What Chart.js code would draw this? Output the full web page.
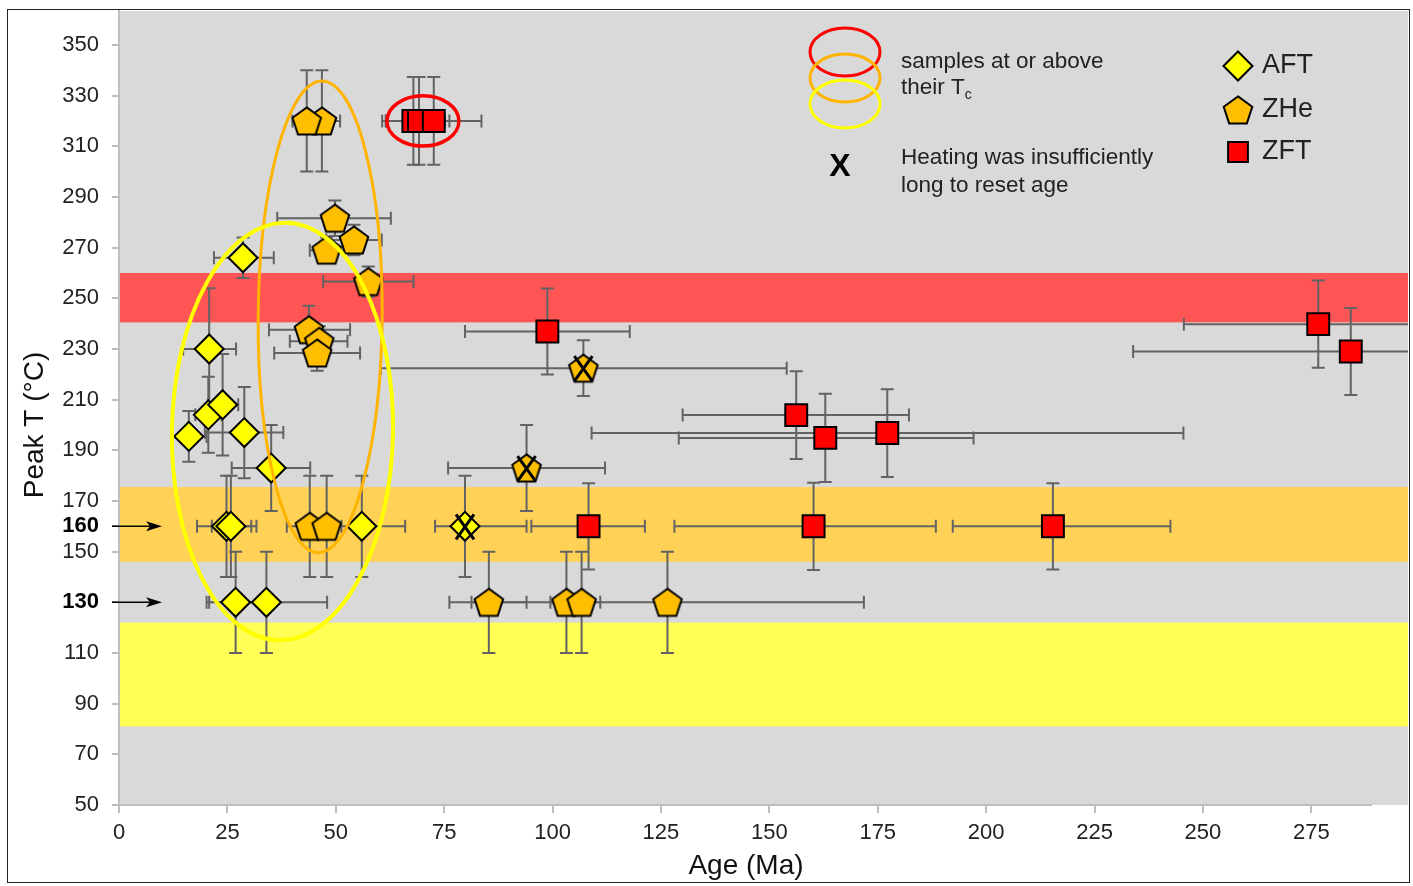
<!DOCTYPE html>
<html>
<head>
<meta charset="utf-8">
<script src="https://cdn.jsdelivr.net/npm/chart.js@4.4.0/dist/chart.umd.min.js"></script>
<style>
  html, body { margin:0; padding:0; background:#fff; }
  #wrap { width:1413px; height:886px; }
</style>
</head>
<body>
<div id="wrap"><canvas id="chart" width="1413" height="886"></canvas></div>
<script>
// AFT (diamonds)
const aftAge     = [28.6, 20.8, 20.6, 23.9, 16.1, 28.9, 35.1, 24.8, 25.8, 56.0, 26.9, 34.0, 79.8];
const aftTemp    = [266, 230, 204, 208, 195.5, 197, 183, 160, 160, 160, 130, 130, 160];
const aftAgeLo   = [21.9, 14.8, 17.6, 20.5, 12.0, 19.8, 26.0, 18.0, 21.4, 46.0, 20.2, 20.8, 72.9];
const aftAgeHi   = [35.7, 27.0, 23.6, 27.5, 20.2, 37.9, 44.1, 30.5, 31.7, 66.0, 33.6, 48.0, 94.0];
const aftTempErr = [8, 24, 15, 20, 10, 18, 17, 20, 20, 20, 20, 20, 20];
const aftReset   = [0, 0, 0, 0, 0, 0, 0, 0, 0, 0, 0, 0, 1];

// ZHe (pentagons)
const zheAge     = [46.8, 43.3, 49.8, 47.9, 54.2, 57.5, 43.8, 46.2, 45.7, 44.0, 47.9, 107.1, 94.0, 85.3, 103.2, 106.7, 126.5];
const zheTemp    = [320, 320, 281.6, 269, 273, 256.6, 237.6, 233, 228.4, 160, 160, 222.4, 183, 130, 130, 130, 130];
const zheAgeLo   = [42.6, 40.0, 36.5, 44.0, 47.8, 47.1, 34.6, 39.4, 35.8, 38.7, 44.5, 60.4, 75.9, 76.2, 99.5, 102.5, 81.3];
const zheAgeHi   = [51.0, 46.6, 62.7, 51.8, 60.6, 67.9, 53.3, 52.7, 55.6, 49.3, 51.3, 154.0, 112.1, 94.0, 107.0, 111.0, 171.8];
const zheTempErr = [20, 20, 7, 5, 6, 6, 9.5, 6, 7, 20, 20, 11, 17, 20, 20, 20, 20];
const zheReset   = [0, 0, 0, 0, 0, 0, 0, 0, 0, 0, 0, 1, 1, 0, 0, 0, 0];

// ZFT (squares)
const zftAge     = [67.9, 69.2, 72.6, 98.8, 108.3, 156.2, 162.9, 177.2, 160.2, 215.4, 276.6, 284.1];
const zftTemp    = [320, 320, 320, 236.9, 160, 203.9, 194.9, 196.8, 160, 160, 239.8, 229];
const zftAgeLo   = [60.7, 61.5, 61.7, 79.8, 95.1, 130.0, 129.1, 109.0, 128.1, 192.3, 245.6, 233.9];
const zftAgeHi   = [75.2, 76.2, 83.6, 117.8, 121.3, 182.2, 197.1, 245.5, 188.4, 242.5, 307.6, 334.0];
const zftTempErr = [17.3, 17.3, 17.3, 17, 17, 17.3, 17.4, 17.3, 17.2, 17, 17.2, 17.2];
const zftReset   = [0, 0, 0, 0, 0, 0, 0, 0, 0, 0, 0, 0];

// closure temperature bands (°C)
const bandLow  = [240.5, 146, 81];
const bandHigh = [260, 175.5, 122];

// "samples at or above their Tc" ellipses (data units)
const ringAge   = [70.1, 46.4, 37.7];
const ringTemp  = [320, 242.7, 197.4];
const ringAgeR  = [8.3, 14.3, 25.5];
const ringTempR = [9.9, 93.1, 82.4];

// ticks
const ageTicks  = [0, 25, 50, 75, 100, 125, 150, 175, 200, 225, 250, 275];
const tempTicks = [50, 70, 90, 110, 130, 150, 160, 170, 190, 210, 230, 250, 270, 290, 310, 330, 350];
const boldTicks = [130, 160];

const FONT = "'Liberation Sans', Arial, sans-serif";
Chart.defaults.font.family = FONT;

const bandColors = ['#ff5555', '#ffd257', '#ffff55'];
const ringColors = ['#ff0000', '#ffb400', '#ffff00'];
const ringWidths = [3.5, 3, 4];
const ringTilt   = [0, 0.008, 0.017];

function pentagon(r, fill) {
  const s = 2 * Math.ceil(r + 2);
  const c = document.createElement('canvas');
  c.width = s; c.height = s;
  const g = c.getContext('2d');
  g.beginPath();
  for (let k = 0; k < 5; k++) {
    const a = -Math.PI / 2 + k * 2 * Math.PI / 5;
    const px = s / 2 + r * Math.cos(a), py = s / 2 + r * Math.sin(a) + r * 0.095;
    k ? g.lineTo(px, py) : g.moveTo(px, py);
  }
  g.closePath();
  g.fillStyle = fill; g.fill();
  g.lineWidth = 2; g.strokeStyle = '#000'; g.stroke();
  return c;
}
const pentImg = pentagon(15, '#ffbf00');

const series = [
  { label:'ZFT', age:zftAge, temp:zftTemp, lo:zftAgeLo, hi:zftAgeHi, err:zftTempErr, reset:zftReset,
    style:'rect', radius:15.5, fill:'#ff0000' },
  { label:'ZHe', age:zheAge, temp:zheTemp, lo:zheAgeLo, hi:zheAgeHi, err:zheTempErr, reset:zheReset,
    style:pentImg, radius:15, fill:'#ffbf00' },
  { label:'AFT', age:aftAge, temp:aftTemp, lo:aftAgeLo, hi:aftAgeHi, err:aftTempErr, reset:aftReset,
    style:'rectRot', radius:14.5, fill:'#ffff00' }
];

const background = {
  id: 'background',
  beforeDraw(chart) {
    const { ctx, chartArea: a, scales: { y } } = chart;
    ctx.save();
    ctx.fillStyle = '#fff';
    ctx.fillRect(0, 0, chart.width, chart.height);
    ctx.fillStyle = '#d9d9d9';
    ctx.fillRect(a.left, a.top, a.right - a.left, a.bottom - a.top);
    bandLow.forEach((lo, i) => {
      const y0 = y.getPixelForValue(bandHigh[i]), y1 = y.getPixelForValue(lo);
      ctx.fillStyle = bandColors[i];
      ctx.fillRect(a.left, y0, a.right - a.left, y1 - y0);
    });
    ctx.restore();
  }
};

const errorBars = {
  id: 'errorBars',
  beforeDatasetsDraw(chart) {
    const { ctx, chartArea: a, scales: { x, y } } = chart;
    const cap = 6.5;
    ctx.save();
    ctx.beginPath(); ctx.rect(a.left, a.top, a.right - a.left, a.bottom - a.top); ctx.clip();
    ctx.strokeStyle = '#636363'; ctx.lineWidth = 2;
    series.forEach(s => {
      s.age.forEach((v, i) => {
        const px = x.getPixelForValue(v), py = y.getPixelForValue(s.temp[i]);
        const x0 = x.getPixelForValue(s.lo[i]), x1 = x.getPixelForValue(s.hi[i]);
        const y0 = y.getPixelForValue(s.temp[i] - s.err[i]), y1 = y.getPixelForValue(s.temp[i] + s.err[i]);
        ctx.beginPath();
        ctx.moveTo(x0, py); ctx.lineTo(x1, py);
        ctx.moveTo(x0, py - cap); ctx.lineTo(x0, py + cap);
        ctx.moveTo(x1, py - cap); ctx.lineTo(x1, py + cap);
        ctx.moveTo(px, y0); ctx.lineTo(px, y1);
        ctx.moveTo(px - cap, y0); ctx.lineTo(px + cap, y0);
        ctx.moveTo(px - cap, y1); ctx.lineTo(px + cap, y1);
        ctx.stroke();
      });
    });
    ctx.restore();
  }
};

const overlays = {
  id: 'overlays',
  afterDatasetsDraw(chart) {
    const { ctx, scales: { x, y } } = chart;
    ctx.save();
    // X = heating too short to reset age
    ctx.strokeStyle = '#000'; ctx.lineWidth = 3;
    series.forEach((s, d) => {
      const meta = chart.getDatasetMeta(d);
      s.reset.forEach((f, i) => {
        if (!f) return;
        const p = meta.data[i];
        ctx.beginPath();
        ctx.moveTo(p.x - 9, p.y - 12); ctx.lineTo(p.x + 9, p.y + 13);
        ctx.moveTo(p.x + 9, p.y - 12); ctx.lineTo(p.x - 9, p.y + 13);
        ctx.stroke();
      });
    });
    // rings
    ringAge.forEach((v, i) => {
      const cx = x.getPixelForValue(v), cy = y.getPixelForValue(ringTemp[i]);
      const rx = x.getPixelForValue(v + ringAgeR[i]) - cx;
      const ry = y.getPixelForValue(ringTemp[i] - ringTempR[i]) - cy;
      ctx.beginPath();
      ctx.ellipse(cx, cy, rx, ry, ringTilt[i], 0, Math.PI * 2);
      ctx.strokeStyle = ringColors[i]; ctx.lineWidth = ringWidths[i];
      ctx.stroke();
    });
    ctx.restore();
  }
};

const decorations = {
  id: 'decorations',
  afterDraw(chart) {
    const { ctx, chartArea: a, scales: { x, y } } = chart;
    ctx.save();
    // x axis line (stops short of the plot edge)
    ctx.strokeStyle = '#bfbfbf'; ctx.lineWidth = 2;
    ctx.beginPath();
    ctx.moveTo(a.left, a.bottom); ctx.lineTo(x.getPixelForValue(289), a.bottom);
    ctx.stroke();

    // arrows at the bold ticks
    ctx.strokeStyle = '#000'; ctx.fillStyle = '#000'; ctx.lineWidth = 1.5;
    boldTicks.forEach(t => {
      const py = y.getPixelForValue(t);
      ctx.beginPath(); ctx.moveTo(112, py); ctx.lineTo(152, py); ctx.stroke();
      ctx.beginPath();
      ctx.moveTo(162, py); ctx.lineTo(146, py - 5); ctx.lineTo(150, py); ctx.lineTo(146, py + 5);
      ctx.closePath(); ctx.fill();
    });

    // axis titles
    ctx.fillStyle = '#111';
    ctx.font = '28px ' + FONT;
    ctx.textAlign = 'center'; ctx.textBaseline = 'middle';
    ctx.fillText('Age (Ma)', 746, 866);
    ctx.save();
    ctx.translate(35, 425); ctx.rotate(-Math.PI / 2);
    ctx.fillText('Peak T (°C)', 0, 0);
    ctx.restore();

    // legend: rings
    [52, 78, 104].forEach((cy, i) => {
      ctx.beginPath();
      ctx.ellipse(845, cy, 35, 24, 0, 0, Math.PI * 2);
      ctx.strokeStyle = ringColors[i]; ctx.lineWidth = 3;
      ctx.stroke();
    });
    ctx.fillStyle = '#222';
    ctx.textAlign = 'left';
    ctx.font = '22.5px ' + FONT;
    ctx.fillText('samples at or above', 901, 62);
    ctx.fillText('their T', 901, 88);
    const tw = ctx.measureText('their T').width;
    ctx.font = '14px ' + FONT;
    ctx.fillText('c', 901 + tw, 95);
    ctx.font = '22.5px ' + FONT;
    ctx.fillText('Heating was insufficiently', 901, 158);
    ctx.fillText('long to reset age', 901, 186);
    ctx.font = 'bold 32px ' + FONT;
    ctx.textAlign = 'center';
    ctx.fillStyle = '#000';
    ctx.fillText('X', 840, 167);

    // legend: markers
    const rows = [['AFT', 66], ['ZHe', 110], ['ZFT', 152]];
    rows.forEach(([name, cy]) => {
      const s = series.find(q => q.label === name);
      ctx.fillStyle = s.fill; ctx.strokeStyle = '#000'; ctx.lineWidth = 2;
      Chart.helpers.drawPoint(ctx, { pointStyle: s.style, radius: name === 'ZFT' ? 14 : s.radius, borderWidth: 2, rotation: 0 }, 1238, cy);
      ctx.fillStyle = '#222';
      ctx.font = '27px ' + FONT;
      ctx.textAlign = 'left'; ctx.textBaseline = 'middle';
      ctx.fillText(name, 1262, cy);
    });

    // frame
    ctx.strokeStyle = '#222'; ctx.lineWidth = 1;
    ctx.strokeRect(7.5, 9.5, 1402, 873);
    ctx.restore();
  }
};

new Chart(document.getElementById('chart'), {
  type: 'scatter',
  data: {
    datasets: series.map(s => ({
      label: s.label,
      data: s.age.map((v, i) => ({ x: v, y: s.temp[i] })),
      pointStyle: s.style,
      pointRadius: s.radius,
      pointHoverRadius: s.radius,
      pointBackgroundColor: s.fill,
      pointBorderColor: '#000',
      pointBorderWidth: 2,
      showLine: false
    }))
  },
  options: {
    responsive: false,
    devicePixelRatio: 1,
    animation: false,
    events: [],
    layout: { autoPadding: false, padding: { top: 11, right: 5, left: 0, bottom: 0 } },
    plugins: { legend: { display: false }, tooltip: { enabled: false } },
    scales: {
      x: {
        type: 'linear', min: 0, max: 297.3,
        afterBuildTicks: s => { s.ticks = ageTicks.map(v => ({ value: v })); },
        afterFit: s => { s.height = 81; s.paddingLeft = 0; s.paddingRight = 0; },
        grid: { drawOnChartArea: false, drawTicks: true, tickLength: 8, color: '#bfbfbf', lineWidth: 2 },
        border: { display: false },
        ticks: { font: { size: 22 }, color: '#222', padding: 7, maxRotation: 0, autoSkip: false }
      },
      y: {
        type: 'linear', min: 50, max: 363.4,
        afterBuildTicks: s => { s.ticks = tempTicks.map(v => ({ value: v })); },
        afterFit: s => { s.width = 119; s.paddingTop = 0; s.paddingBottom = 0; },
        grid: { drawOnChartArea: false, drawTicks: true, tickLength: 7, color: '#bfbfbf', lineWidth: 2 },
        border: { display: true, color: '#bfbfbf', width: 2 },
        ticks: {
          padding: 13, autoSkip: false,
          font: c => ({ size: 22, weight: boldTicks.includes(c.tick && c.tick.value) ? 'bold' : 'normal' }),
          color: c => boldTicks.includes(c.tick && c.tick.value) ? '#000' : '#222'
        }
      }
    }
  },
  plugins: [background, errorBars, overlays, decorations]
});
</script>
</body>
</html>
